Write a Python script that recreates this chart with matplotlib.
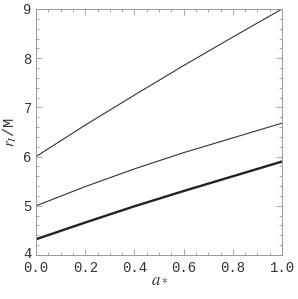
"""Three r_I/M curves against spin a_*, in the Mathematica frame style."""
import matplotlib
matplotlib.use("Agg")
import matplotlib.pyplot as plt
from matplotlib.ticker import MultipleLocator, FormatStrFormatter
from matplotlib.transforms import ScaledTranslation

plt.rcParams["mathtext.fontset"] = "stix"

spin = [0.0, 0.2, 0.4, 0.6, 0.8, 1.0]
r_upper = [6.00, 6.64, 7.25, 7.85, 8.43, 9.00]
r_middle = [5.00, 5.39, 5.75, 6.08, 6.38, 6.68]
r_lower = [4.32, 4.66, 4.99, 5.30, 5.60, 5.90]

fig = plt.figure(figsize=(2.98, 2.99), dpi=100)
ax = fig.add_axes([36 / 298, 44 / 299, 246 / 298, 246 / 299])

ax.plot(spin, r_upper, color="#333333", lw=0.8)
ax.plot(spin, r_middle, color="#333333", lw=0.8)
ax.plot(spin, r_lower, color="#222222", lw=1.7)

ax.set_xlim(0, 1)
ax.set_ylim(4, 9)
ax.xaxis.set_major_locator(MultipleLocator(0.2))
ax.xaxis.set_minor_locator(MultipleLocator(0.05))
ax.yaxis.set_major_locator(MultipleLocator(1))
ax.yaxis.set_minor_locator(MultipleLocator(0.2))
ax.xaxis.set_major_formatter(FormatStrFormatter("%.1f"))

ax.tick_params(which="both", direction="in", top=True, right=True,
               color="#999999", width=0.6)
ax.tick_params(which="major", length=4)
ax.tick_params(which="minor", length=2)
ax.tick_params(axis="x", which="major", pad=4)
ax.tick_params(axis="y", which="major", pad=3)
for lab in ax.get_xticklabels() + ax.get_yticklabels():
    lab.set_fontfamily("Liberation Mono")
    lab.set_fontsize(10)
    lab.set_color("#333333")
for sp in ax.spines.values():
    sp.set_color("#999999")
    sp.set_linewidth(0.7)

# lift the bottom "4" a little so it clears "0.0", as in the original
fig.canvas.draw()
lift = ScaledTranslation(0, 3 / 100, fig.dpi_scale_trans)
for lab in ax.get_yticklabels():
    if lab.get_text() == "4":
        lab.set_transform(lab.get_transform() + lift)

ax.set_xlabel(r"$a_*$", fontsize=12, color="#333333", labelpad=-4)
ax.set_ylabel(r"$r_I$/M", fontsize=11, family="Liberation Mono",
              color="#333333", labelpad=3)

fig.savefig("out.png", facecolor="white")
